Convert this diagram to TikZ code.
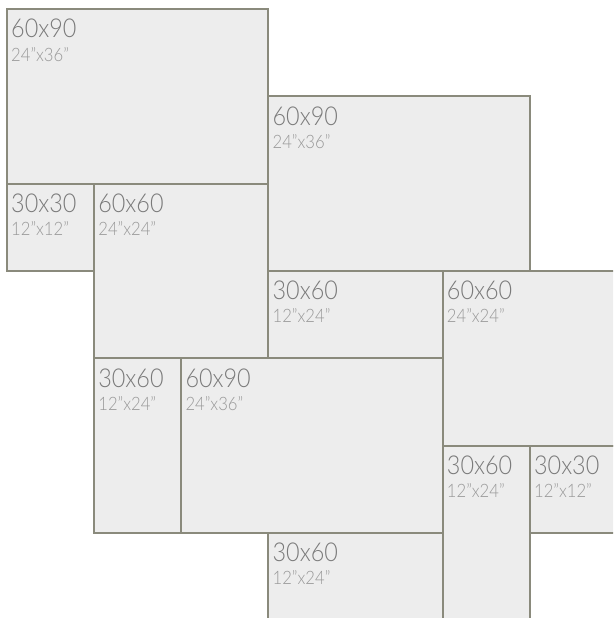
\documentclass[tikz,border=0pt]{standalone}
\usepackage{fontspec}
\setmainfont{Lato}[UprightFont=* Light,FakeStretch=0.9]
\usepackage{tikz}
\usetikzlibrary{positioning}
\definecolor{tilefill}{HTML}{EDEDED}
\definecolor{grout}{HTML}{8A8A7C}
\definecolor{bigtxt}{HTML}{7A7A7A}
\definecolor{smalltxt}{HTML}{989898}
\tikzset{
  tile/.style={draw=grout,fill=tilefill,line width=2pt,anchor=north west,inner sep=0pt},
  big/.style={anchor=base west,inner sep=0pt,text=bigtxt,font=\fontsize{26}{26}\selectfont},
  small/.style={anchor=base west,inner sep=0pt,text=smalltxt,font=\fontsize{18.5}{18.5}\selectfont}
}

\begin{document}
\begin{tikzpicture}[x=87.15pt,y=-87.3pt]
  \clip (-6pt,8pt) rectangle (607pt,-610pt);
  % tiles, one grid unit = 30 cm
  \node[tile,minimum width=261.45pt,minimum height=174.6pt] (a) at (0,0) {};
  \node[tile,minimum width=261.45pt,minimum height=174.6pt] (b) at (3,1) {};
  \node[tile,minimum width=87.15pt,minimum height=87.3pt] (c) at (0,2) {};
  \node[tile,minimum width=174.3pt,minimum height=174.6pt] (d) at (1,2) {};
  \node[tile,minimum width=174.3pt,minimum height=87.3pt] (e) at (3,3) {};
  \node[tile,minimum width=174.3pt,minimum height=174.6pt] (f) at (5,3) {};
  \node[tile,minimum width=87.15pt,minimum height=174.6pt] (g) at (1,4) {};
  \node[tile,minimum width=261.45pt,minimum height=174.6pt] (h) at (2,4) {};
  \node[tile,minimum width=87.15pt,minimum height=174.6pt] (i) at (5,5) {};
  \node[tile,minimum width=87.15pt,minimum height=87.3pt] (j) at (6,5) {};
  \node[tile,minimum width=174.3pt,minimum height=87.3pt] (k) at (3,6) {};
  % labels
  \node[big] (a1) at ([shift={(5pt,-30pt)}]a.north west) {60x90};
  \node[small] (a2) at ([shift={(5pt,-53pt)}]a.north west) {24"x36"};
  \node[big] (b1) at ([shift={(5pt,-30pt)}]b.north west) {60x90};
  \node[small] (b2) at ([shift={(5pt,-53pt)}]b.north west) {24"x36"};
  \node[big] (c1) at ([shift={(5pt,-30pt)}]c.north west) {30x30};
  \node[small] (c2) at ([shift={(5pt,-53pt)}]c.north west) {12"x12"};
  \node[big] (d1) at ([shift={(5pt,-30pt)}]d.north west) {60x60};
  \node[small] (d2) at ([shift={(5pt,-53pt)}]d.north west) {24"x24"};
  \node[big] (e1) at ([shift={(5pt,-30pt)}]e.north west) {30x60};
  \node[small] (e2) at ([shift={(5pt,-53pt)}]e.north west) {12"x24"};
  \node[big] (f1) at ([shift={(5pt,-30pt)}]f.north west) {60x60};
  \node[small] (f2) at ([shift={(5pt,-53pt)}]f.north west) {24"x24"};
  \node[big] (g1) at ([shift={(5pt,-30pt)}]g.north west) {30x60};
  \node[small] (g2) at ([shift={(5pt,-53pt)}]g.north west) {12"x24"};
  \node[big] (h1) at ([shift={(5pt,-30pt)}]h.north west) {60x90};
  \node[small] (h2) at ([shift={(5pt,-53pt)}]h.north west) {24"x36"};
  \node[big] (i1) at ([shift={(5pt,-30pt)}]i.north west) {30x60};
  \node[small] (i2) at ([shift={(5pt,-53pt)}]i.north west) {12"x24"};
  \node[big] (j1) at ([shift={(5pt,-30pt)}]j.north west) {30x30};
  \node[small] (j2) at ([shift={(5pt,-53pt)}]j.north west) {12"x12"};
  \node[big] (k1) at ([shift={(5pt,-30pt)}]k.north west) {30x60};
  \node[small] (k2) at ([shift={(5pt,-53pt)}]k.north west) {12"x24"};
\end{tikzpicture}
\end{document}
